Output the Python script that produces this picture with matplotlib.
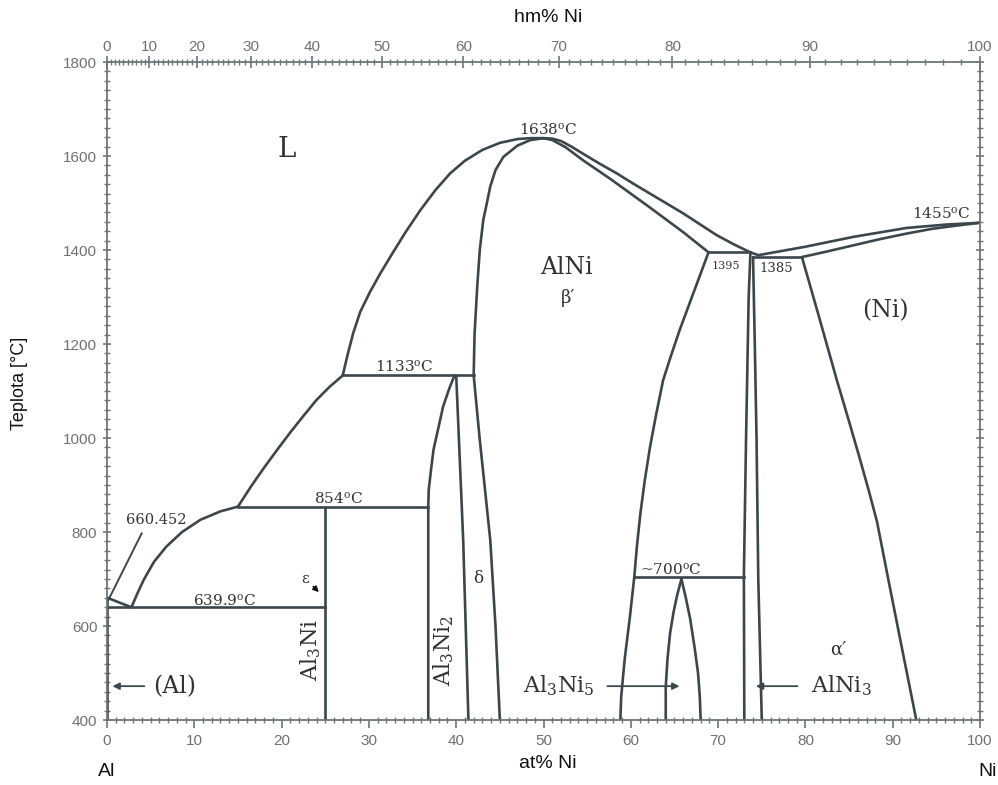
import numpy as np
import matplotlib
matplotlib.use("Agg")
import matplotlib.pyplot as plt
from matplotlib.ticker import MultipleLocator, FixedLocator

plt.rcParams['font.family'] = ['DejaVu Serif']
plt.rcParams['mathtext.fontset'] = 'dejavuserif'

# ---------------- data (at% Ni, temperature in degC) ----------------
liq_al_x = [0.0, 1.4, 2.8]
liq_al_t = [660.452, 650, 639.9]
liq_low_x = [2.8, 3.5, 4.2, 5.4, 6.8, 8.6, 10.7, 13.0, 15.0]
liq_low_t = [639.9, 670, 698, 737, 769, 800, 826, 844, 854]
liq_mid_x = [15.0, 16.5, 18.0, 19.5, 21.0, 22.5, 24.0, 25.5, 27.0]
liq_mid_t = [854, 897, 937, 975, 1012, 1047, 1081, 1109, 1133]
liq_high_x = [27.0, 27.6, 28.2, 29.0, 30.1, 31.3, 32.6, 34.2, 35.9, 37.6,
              39.3, 41.0, 43.0, 45.0, 47.0, 48.5, 50.0]
liq_high_t = [1133, 1180, 1223, 1268, 1310, 1350, 1390, 1438, 1485, 1527,
              1563, 1590, 1613, 1628, 1636, 1638, 1638]
liq_right_x = [50.0, 51.0, 52.0, 53.2, 54.6, 56.4, 58.4, 60.3, 62.2, 64.1, 66.0, 67.9, 69.8, 71.8, 73.7]
liq_right_t = [1638, 1637, 1632, 1620, 1604, 1584, 1563, 1541, 1520, 1499, 1478, 1455, 1432, 1412, 1395]
liq_ni_x = [73.7, 74.6, 77.0, 80.0, 85.5, 91.6, 96.0, 100.0]
liq_ni_t = [1395, 1389, 1397, 1407, 1428, 1447, 1454, 1458]
sol_ni_x = [79.6, 82.5, 85.5, 88.5, 91.6, 94.5, 96.9, 100.0]
sol_ni_t = [1385, 1397, 1410, 1423, 1435, 1445, 1451, 1458]
solvus_ni_x = [79.6, 81.6, 83.6, 85.0, 86.2, 87.3, 88.2, 89.4, 91.0, 92.7]
solvus_ni_t = [1385, 1255, 1123, 1035, 958, 885, 822, 708, 558, 400]

alni_left_x = [50.0, 48.5, 47.0, 45.4, 44.5, 43.9, 43.4, 43.1, 42.7, 42.4, 42.1, 42.0]
alni_left_t = [1638, 1634, 1622, 1598, 1570, 1535, 1490, 1464, 1400, 1320, 1220, 1133]
alni_lower_x = [42.0, 42.7, 43.3, 43.9, 44.5, 45.0]
alni_lower_t = [1133, 996, 890, 783, 600, 400]
alni_right_x = [50.0, 51.0, 52.5, 54.6, 57.6, 62.0, 66.0, 68.9]
alni_right_t = [1638, 1634, 1619, 1590, 1552, 1493, 1438, 1395]
alni_low_x = [68.9, 67.8, 66.8, 65.6, 64.6, 63.7, 62.9, 62.2, 61.6, 61.1, 60.7, 60.4, 59.9, 59.3, 58.9, 58.8]
alni_low_t = [1395, 1340, 1290, 1230, 1175, 1123, 1050, 981, 910, 840, 770, 705, 620, 530, 450, 400]

alni3_left_x = [73.7, 73.5, 73.2, 72.95, 73.0]
alni3_left_t = [1395, 1300, 1000, 705, 400]
alni3_right_x = [74.0, 74.2, 74.4, 74.6, 75.0]
alni3_right_t = [1385, 1200, 1000, 700, 400]

al3ni5_left_x = [65.8, 65.3, 64.9, 64.5, 64.2, 64.0, 64.0]
al3ni5_left_t = [700, 665, 630, 585, 530, 470, 400]
al3ni5_right_x = [65.8, 66.3, 66.8, 67.3, 67.7, 67.9, 68.0]
al3ni5_right_t = [700, 660, 615, 555, 500, 450, 400]

al3ni2_left_x = [39.8, 39.2, 38.5, 38.0, 37.4, 37.1, 36.85, 36.8, 36.8]
al3ni2_left_t = [1133, 1105, 1067, 1025, 975, 930, 889, 854, 400]
al3ni2_right_x = [40.0, 40.8, 41.4]
al3ni2_right_t = [1133, 783, 400]

al3ni_x = [25.0, 25.0]
al3ni_t = [854, 400]
al_solvus_x = [0.05, 0.05]
al_solvus_t = [660.452, 400]

# isotherms: (x_start, x_end, T)
iso_x0 = [0.0, 15.0, 27.0, 68.9, 74.0, 60.4]
iso_x1 = [25.0, 36.8, 42.0, 73.7, 79.6, 72.95]
iso_t = [639.9, 854, 1133, 1395, 1385, 705]

# top axis: weight % Ni
wt_major = [0, 10, 20, 30, 40, 50, 60, 70, 80, 90, 100]
M_NI, M_AL = 58.69, 26.98

def wt_to_at(w):
    w = np.asarray(w, dtype=float)
    n = w / M_NI
    a = (100 - w) / M_AL
    return 100 * n / (n + a)

# ---------------- figure ----------------
fig = plt.figure(figsize=(9.98, 7.85), dpi=100)
ax = fig.add_axes([0.1072, 0.0828, 0.8748, 0.8382])
ax.set_xlim(0, 100)
ax.set_ylim(400, 1800)

LC = '#3b474c'
LW = 1.9
curves = [
    (liq_al_x, liq_al_t), (liq_low_x, liq_low_t), (liq_mid_x, liq_mid_t),
    (liq_high_x, liq_high_t), (liq_right_x, liq_right_t), (liq_ni_x, liq_ni_t),
    (sol_ni_x, sol_ni_t), (solvus_ni_x, solvus_ni_t),
    (alni_left_x, alni_left_t), (alni_lower_x, alni_lower_t),
    (alni_right_x, alni_right_t), (alni_low_x, alni_low_t),
    (alni3_left_x, alni3_left_t), (alni3_right_x, alni3_right_t),
    (al3ni5_left_x, al3ni5_left_t), (al3ni5_right_x, al3ni5_right_t),
    (al3ni2_left_x, al3ni2_left_t), (al3ni2_right_x, al3ni2_right_t),
    (al3ni_x, al3ni_t), (al_solvus_x, al_solvus_t),
]
for xs, ts in curves:
    ax.plot(xs, ts, color=LC, lw=LW, solid_capstyle='round', solid_joinstyle='round')
for x0, x1, t in zip(iso_x0, iso_x1, iso_t):
    ax.plot([x0, x1], [t, t], color=LC, lw=LW)

# ---------------- axes styling ----------------
TC = '#6b767a'
for s in ax.spines.values():
    s.set_color(TC)
    s.set_linewidth(1.3)
ax.xaxis.set_major_locator(MultipleLocator(10))
ax.xaxis.set_minor_locator(MultipleLocator(1))
ax.yaxis.set_major_locator(MultipleLocator(200))
ax.yaxis.set_minor_locator(MultipleLocator(20))
ax.tick_params(which='major', direction='out', length=6, width=1.2, color=TC,
               labelsize=11, labelcolor='#707070', pad=4)
ax.tick_params(which='minor', direction='inout', length=4, width=1.0, color=TC)
ax.tick_params(axis='y', which='both', right=True)
ax.tick_params(axis='y', which='major', right=True, direction='inout')
for lab_ in ax.get_xticklabels() + ax.get_yticklabels():
    lab_.set_fontfamily('Liberation Sans')

top = ax.twiny()
top.set_xlim(0, 100)
top.xaxis.set_major_locator(FixedLocator(wt_to_at(wt_major)))
top.set_xticklabels([str(v) for v in wt_major], fontfamily='Liberation Sans')
top.xaxis.set_minor_locator(FixedLocator(wt_to_at(np.arange(0, 100.5, 1.0))))
top.tick_params(which='major', direction='inout', length=8, width=1.2, color=TC,
                labelsize=11, labelcolor='#707070', pad=2)
top.tick_params(which='minor', direction='inout', length=4, width=1.0, color=TC)
for s in top.spines.values():
    s.set_visible(False)

# axis titles
fig.text(548 / 998, 1 - 18 / 785, 'hm% Ni', ha='center', va='center',
         fontsize=14, fontfamily='Liberation Sans', color='#111111')
fig.text(548 / 998, 1 - 763 / 785, 'at% Ni', ha='center', va='center',
         fontsize=14, fontfamily='Liberation Sans', color='#111111')
fig.text(107 / 998, 1 - 772 / 785, 'Al', ha='center', va='center',
         fontsize=14, fontfamily='Liberation Sans', color='#111111')
fig.text(988 / 998, 1 - 772 / 785, 'Ni', ha='center', va='center',
         fontsize=14, fontfamily='Liberation Sans', color='#111111')
fig.text(20 / 998, 1 - 383 / 785, 'Teplota [°C]', ha='center', va='center',
         rotation=90, fontsize=13, fontfamily='Liberation Sans', color='#111111')

# ---------------- annotations ----------------
TXT = '#333333'
DEG = r'$^{\rm o}$C'
def lab(x, t, s, size, **kw):
    ax.text(x, t, s, fontsize=size, color=TXT, ha=kw.pop('ha', 'center'),
            va=kw.pop('va', 'center'), **kw)

lab(20.6, 1613, 'L', 20)
lab(52.6, 1362, 'AlNi', 17)
lab(52.8, 1298, 'β′', 13)
lab(89.2, 1270, '(Ni)', 17)
lab(50.5, 1657, '1638' + DEG, 11)
lab(95.6, 1478, '1455' + DEG, 11)
lab(70.9, 1366, '1395', 8)
lab(76.7, 1360, '1385', 9.5)
lab(34.1, 1152, '1133' + DEG, 11)
lab(26.5, 871, '854' + DEG, 11)
lab(5.6, 826, '660.452', 10.5)
lab(13.5, 655, '639.9' + DEG, 11)
lab(64.6, 720, '~700' + DEG, 11)
lab(42.5, 702, 'δ', 12)
lab(83.8, 550, 'α′', 13)
lab(23.3, 549, r'Al$_3$Ni', 16, rotation=90)
lab(38.6, 549, r'Al$_3$Ni$_2$', 16, rotation=90)
lab(51.8, 472, r'Al$_3$Ni$_5$', 16)
lab(84.1, 472, r'AlNi$_3$', 16)
lab(7.7, 470, '(Al)', 17)

ax.plot([0.15, 3.97], [655, 797], color=LC, lw=1.4)
ax.annotate('', xy=(65.9, 472), xytext=(57.0, 472),
            arrowprops=dict(arrowstyle='-|>', color=LC, lw=1.3, mutation_scale=10))
ax.annotate('', xy=(74.0, 472), xytext=(79.4, 472),
            arrowprops=dict(arrowstyle='-|>', color=LC, lw=1.3, mutation_scale=10))
ax.annotate('', xy=(0.3, 472), xytext=(4.6, 472),
            arrowprops=dict(arrowstyle='-|>', color=LC, lw=1.3, mutation_scale=10))
ax.text(22.7, 700, 'ε', fontsize=11, color=TXT, ha='center', va='center')
ax.annotate('', xy=(24.5, 668), xytext=(23.4, 688),
            arrowprops=dict(arrowstyle='-|>', color='#111111', lw=1.2, mutation_scale=8))

fig.savefig('out.png', dpi=100, facecolor='white')
